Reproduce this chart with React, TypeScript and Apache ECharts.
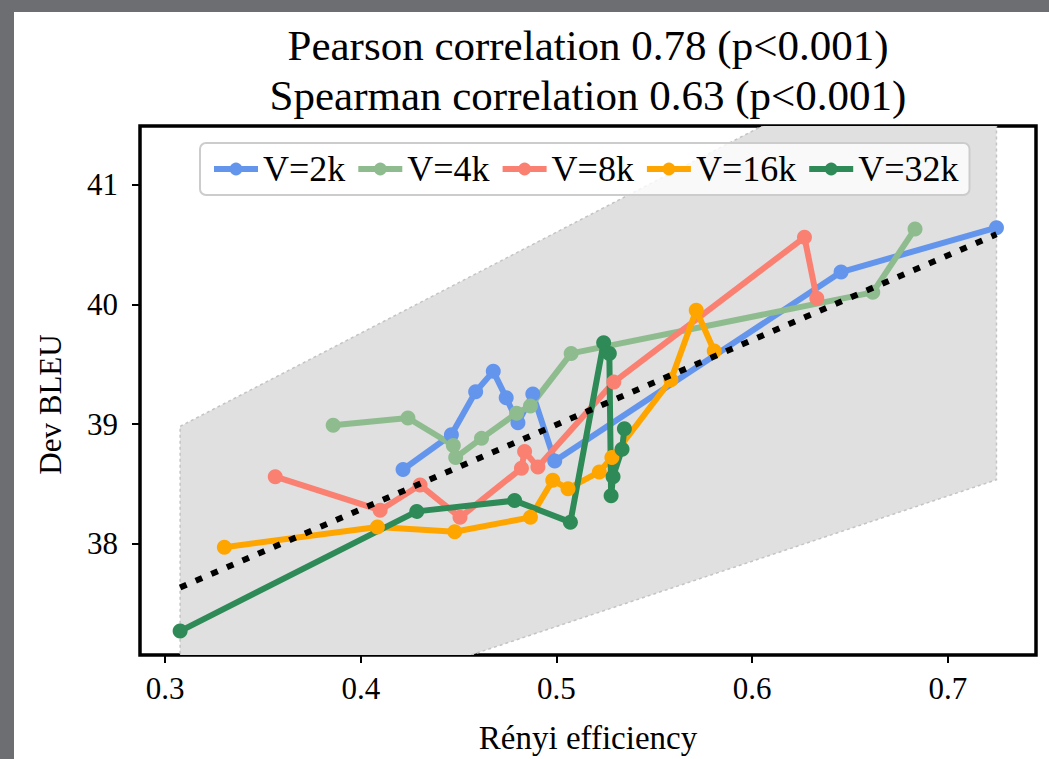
import React, { useEffect, useRef } from "react";
import * as echarts from "echarts";

const seriesNames = ["V=2k", "V=4k", "V=8k", "V=16k", "V=32k"];
const seriesColors = ["#6495ED", "#8FBC8F", "#FA8072", "#FFA500", "#2E8B57"];

const v2kX = [0.4216, 0.4463, 0.4587, 0.4677, 0.4743, 0.4803, 0.4879, 0.4991, 0.6454, 0.7248];
const v2kY = [38.62, 38.91, 39.27, 39.44, 39.22, 39.01, 39.25, 38.69, 40.27, 40.64];

const v4kX = [0.3859, 0.4241, 0.4473, 0.4485, 0.4617, 0.4796, 0.4867, 0.5075, 0.6616, 0.6832];
const v4kY = [38.99, 39.05, 38.82, 38.72, 38.88, 39.09, 39.15, 39.59, 40.1, 40.63];

const v8kX = [0.3563, 0.4099, 0.4303, 0.4507, 0.4821, 0.4837, 0.4905, 0.5293, 0.6267, 0.633];
const v8kY = [38.56, 38.28, 38.49, 38.22, 38.63, 38.77, 38.64, 39.35, 40.56, 40.05];

const v16kX = [0.3303, 0.4085, 0.448, 0.4867, 0.4981, 0.5059, 0.5219, 0.5283, 0.5585, 0.5714, 0.5806];
const v16kY = [37.97, 38.14, 38.1, 38.22, 38.53, 38.46, 38.6, 38.72, 39.37, 39.95, 39.61];

const v32kX = [0.3077, 0.4286, 0.4786, 0.5071, 0.5241, 0.527, 0.5279, 0.5289, 0.5335, 0.5347];
const v32kY = [37.27, 38.27, 38.36, 38.18, 39.68, 39.59, 38.4, 38.56, 38.79, 38.96];

const regX = [0.3077, 0.7248];
const regY = [37.634, 40.585];
const bandUpperY = [38.98, 42.5];
const bandLowerY = [36.26, 38.534];

const xTicks = [0.3, 0.4, 0.5, 0.6, 0.7];
const yTicks = [38, 39, 40, 41];

const titleLines = [
  "Pearson correlation 0.78 (p<0.001)",
  "Spearman correlation 0.63 (p<0.001)",
];
const xName = "Rényi efficiency";
const yName = "Dev BLEU";

const FONT = "'Liberation Serif', 'DejaVu Serif', serif";

const allX = [v2kX, v4kX, v8kX, v16kX, v32kX];
const allY = [v2kY, v4kY, v8kY, v16kY, v32kY];

export default function App() {
  const ref = useRef<HTMLDivElement>(null);

  useEffect(() => {
    if (!ref.current) return;
    const chart = echarts.init(ref.current, null, { renderer: "svg" });

    const lineSeries = seriesNames.map((name, i) => ({
      type: "line",
      name,
      data: allX[i].map((x, j) => [x, allY[i][j]]),
      symbol: "circle",
      symbolSize: 15,
      showSymbol: true,
      lineStyle: { width: 6, color: seriesColors[i] },
      itemStyle: { color: seriesColors[i] },
      z: 3,
      clip: false,
    }));

    const option: any = {
      animation: false,
      backgroundColor: "#ffffff",
      graphic: [
        { type: "rect", left: 0, top: 0, shape: { width: 1049, height: 12 }, style: { fill: "#6d6e72" }, z: 100 },
        { type: "rect", left: 0, top: 0, shape: { width: 14, height: 759 }, style: { fill: "#6d6e72" }, z: 100 },
        {
          type: "text",
          x: 588,
          y: 45,
          style: { text: titleLines[0], fontSize: 43, fontFamily: FONT, fill: "#000", align: "center", verticalAlign: "middle" },
        },
        {
          type: "text",
          x: 588,
          y: 95,
          style: { text: titleLines[1], fontSize: 43, fontFamily: FONT, fill: "#000", align: "center", verticalAlign: "middle" },
        },
      ],
      grid: {
        left: 140,
        right: 13,
        top: 126,
        bottom: 101,
        show: true,
        borderColor: "#000",
        borderWidth: 3.5,
        backgroundColor: "transparent",
      },
      legend: {
        data: seriesNames,
        left: 200,
        top: 143,
        orient: "horizontal",
        itemWidth: 44,
        itemHeight: 16,
        itemGap: 10,
        padding: [8, 11],
        backgroundColor: "rgba(255,255,255,0.8)",
        borderColor: "#cccccc",
        borderWidth: 2,
        borderRadius: 6,
        lineStyle: { width: 6 },
        textStyle: { fontSize: 36, fontFamily: FONT, color: "#000" },
      },
      xAxis: {
        type: "value",
        min: 0.2872,
        max: 0.745,
        name: xName,
        nameLocation: "middle",
        nameGap: 66,
        nameTextStyle: { fontSize: 33, fontFamily: FONT, color: "#000" },
        axisLine: { show: false },
        axisTick: { show: true, length: 8, lineStyle: { width: 2, color: "#000" }, customValues: xTicks },
        axisLabel: {
          customValues: xTicks,
          formatter: (v: number) => v.toFixed(1),
          fontSize: 31,
          fontFamily: FONT,
          color: "#000",
          margin: 18,
        },
        splitLine: { show: false },
      },
      yAxis: {
        type: "value",
        min: 37.07,
        max: 41.49,
        name: yName,
        nameLocation: "middle",
        nameGap: 74,
        nameTextStyle: { fontSize: 31, fontFamily: FONT, color: "#000", padding: [0, 28, 0, 0] },
        axisLine: { show: false },
        axisTick: { show: true, length: 8, lineStyle: { width: 2, color: "#000" }, customValues: yTicks },
        axisLabel: {
          customValues: yTicks,
          formatter: (v: number) => String(Math.round(v)),
          fontSize: 31,
          fontFamily: FONT,
          color: "#000",
          margin: 22,
        },
        splitLine: { show: false },
      },
      series: [
        {
          type: "custom",
          name: "band",
          clip: true,
          z: 1,
          silent: true,
          data: [[regX[0], regX[1]]],
          renderItem: (params: any, api: any) => {
            const p1 = api.coord([regX[0], bandUpperY[0]]);
            const p2 = api.coord([regX[1], bandUpperY[1]]);
            const p3 = api.coord([regX[1], bandLowerY[1]]);
            const p4 = api.coord([regX[0], bandLowerY[0]]);
            return {
              type: "polygon",
              shape: { points: [p1, p2, p3, p4] },
              style: { fill: "#e0e0e0", stroke: "#c4c4c4", lineWidth: 1.5, lineDash: [3, 3] },
            };
          },
        },
        ...lineSeries,
        {
          type: "line",
          name: "regression",
          data: regX.map((x, i) => [x, regY[i]]),
          showSymbol: false,
          symbol: "none",
          z: 4,
          lineStyle: { width: 6, color: "#000", type: [7, 10], cap: "butt" },
        },
      ],
    };

    chart.setOption(option);
    return () => chart.dispose();
  }, []);

  return (
    <div
      ref={ref}
      style={{ position: "fixed", left: 0, top: 0, width: 1049, height: 759, background: "#fff" }}
    />
  );
}
